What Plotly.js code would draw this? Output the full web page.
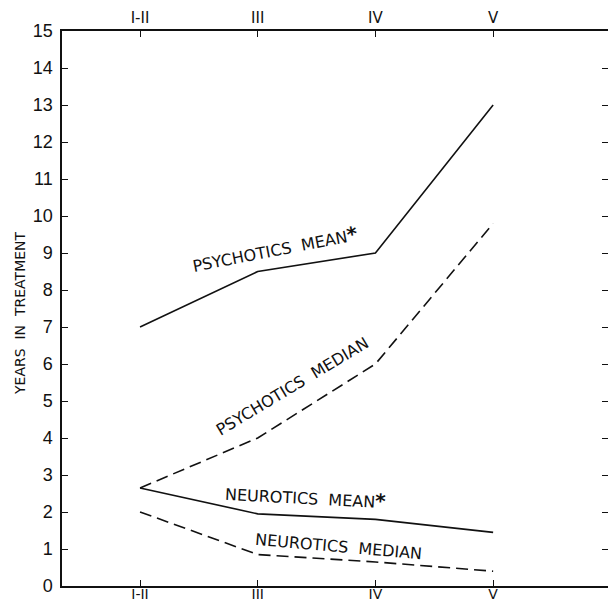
<!DOCTYPE html>
<html><head><meta charset="utf-8">
<script src="https://cdn.plot.ly/plotly-3.0.1.min.js"></script>
<style>html,body{margin:0;padding:0;background:#fff}</style>
</head><body><div id="chart" style="width:608px;height:604px"></div>
<script>
const categories = ["I-II", "III", "IV", "V"];
const psychoticsMean = [7.0, 8.5, 9.0, 13.0];
const psychoticsMedian = [2.65, 4.0, 6.0, 9.8];
const neuroticsMean = [2.65, 1.95, 1.8, 1.45];
const neuroticsMedian = [2.0, 0.85, 0.65, 0.4];
const yTicks = [0,1,2,3,4,5,6,7,8,9,10,11,12,13,14,15];
const xPos = categories.map((c,i)=>i);

const line = (y, dash) => ({x: xPos, y: y, type:'scatter', mode:'lines',
  line:{color:'#111', width:1.6, dash: dash}, showlegend:false, hoverinfo:'skip'});

const data = [
  line(psychoticsMean, 'solid'),
  line(psychoticsMedian, '12px,6px'),
  line(neuroticsMean, 'solid'),
  line(neuroticsMedian, '12px,6px'),
  {x: xPos, y: xPos.map(()=>null), xaxis:'x2', type:'scatter', mode:'lines', showlegend:false, hoverinfo:'skip'}
];

const fnt = {family:'Liberation Sans Narrow, Liberation Sans, Arial, sans-serif', color:'#111'};
const xfnt = {family:'DejaVu Sans, sans-serif', color:'#111'};
const afnt = {family:'DejaVu Sans, sans-serif', color:'#111'};
const ann = (text, x, y, angle, size) => ({text, x, y, xref:'paper', yref:'paper', showarrow:false,
  xanchor:'center', yanchor:'middle',
  textangle: angle, font:Object.assign({}, afnt, {size:size||16})});
const L=62, T=31, W=608-62, H=604-31-18;
const px = (x)=> (x-L)/W, py=(y)=> 1-(y-T)/H;
const star = '<span style="font-size:20px"><b>*</b></span>';

const layout = {
  width:608, height:604,
  margin:{l:62, r:0, t:31, b:18},
  paper_bgcolor:'#fff', plot_bgcolor:'#fff',
  xaxis:{range:[-0.663, 3.976], tickvals:xPos, ticktext:categories, ticks:'inside', ticklen:6,
    tickcolor:'#111', showline:true, linecolor:'#111', linewidth:1.6, showgrid:false, zeroline:false,
    tickfont:Object.assign({}, xfnt, {size:14}), ticklabelstandoff:-5, fixedrange:true},
  xaxis2:{overlaying:'x', side:'top', anchor:'y', range:[-0.663, 3.976], tickvals:xPos, ticktext:categories,
    ticks:'inside', ticklen:6, tickcolor:'#111', showline:true, linecolor:'#111', linewidth:1.6,
    showgrid:false, zeroline:false, tickfont:Object.assign({}, xfnt, {size:15})},
  yaxis:{range:[0,15], tickvals:yTicks, ticks:'inside', ticklen:6, tickcolor:'#111', showline:true,
    linecolor:'#111', linewidth:1.6, mirror:'ticks', showgrid:false, zeroline:false,
    tickfont:Object.assign({}, fnt, {size:18}), ticklabelstandoff:4},
  annotations:[
    ann('YEARS  IN  TREATMENT', px(20), py(313), -90, 14),
    ann('PSYCHOTICS&nbsp;&nbsp;MEAN' + star, px(275), py(249), -11, 16),
    ann('PSYCHOTICS&nbsp;&nbsp;MEDIAN', px(292), py(386), -31, 16),
    ann('NEUROTICS&nbsp;&nbsp;MEAN' + star, px(305), py(497), 3, 16),
    ann('NEUROTICS&nbsp;&nbsp;MEDIAN', px(338), py(546), 5, 16)
  ]
};
Plotly.newPlot('chart', data, layout, {displayModeBar:false, staticPlot:true});
</script></body></html>
